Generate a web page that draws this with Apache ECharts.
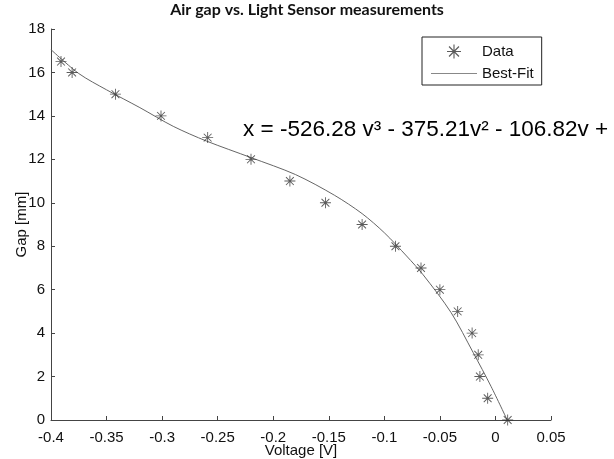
<!DOCTYPE html>
<html>
<head>
<meta charset="utf-8">
<script src="https://cdn.jsdelivr.net/npm/echarts@6/dist/echarts.min.js"></script>
<style>
  html, body { margin: 0; padding: 0; background: #fff; }
  #chart { width: 614px; height: 459px; }
</style>
</head>
<body>
<div id="chart"></div>
<script>
// measured points (voltage [V], gap [mm])
const dataVoltage = [-0.391, -0.381, -0.342, -0.301, -0.259, -0.220, -0.185, -0.153, -0.120,
  -0.090, -0.067, -0.050, -0.034, -0.021, -0.0155, -0.014, -0.007, 0.011];
const dataGap = [16.5, 16, 15, 14, 13, 12, 11, 10, 9, 8, 7, 6, 5, 4, 3, 2, 1, 0];

// best-fit curve
const fitVoltage = [-0.40, -0.375, -0.35, -0.32, -0.29, -0.26, -0.22, -0.18, -0.145, -0.12,
  -0.10, -0.08, -0.065, -0.04, -0.02, -0.004, 0.0106];
const fitGap = [17.05, 15.95, 15.2, 14.38, 13.52, 12.84, 12.08, 11.3, 10.35, 9.5,
  8.62, 7.55, 6.68, 4.95, 3.1, 1.55, 0];

const xTicks = { min: -0.4, max: 0.05, step: 0.05 };
const yTicks = { min: 0, max: 18, step: 2 };

const titleText = "Air gap vs. Light Sensor measurements";
const equationText = "x = -526.28 v\u00b3 - 375.21v\u00b2 - 106.82v +";

// asterisk marker
const star = "path://M-0.8,-10L0.8,-10L0.8,10L-0.8,10Z" +
  "M-10,-0.8L10,-0.8L10,0.8L-10,0.8Z" +
  "M-7.7,-6.5L-6.5,-7.7L7.7,6.5L6.5,7.7Z" +
  "M6.5,-7.7L7.7,-6.5L-6.5,7.7L-7.7,6.5Z";
// thin line legend icon (tiny corner dots keep the 46x14 box)
const lineIcon = "path://M0,0L0.01,0L0.01,0.01Z" +
  "M0,6.6L46,6.6L46,7.4L0,7.4Z" +
  "M45.99,14L46,14L46,13.99Z";

const chart = echarts.init(document.getElementById("chart"), null, { renderer: "canvas" });

const font = "Liberation Sans, Arial, sans-serif";

chart.setOption({
  animation: false,
  backgroundColor: "#fff",
  title: {
    text: titleText,
    left: "center",
    top: -3,
    textStyle: { fontFamily: "Lato, sans-serif", fontWeight: "bold", fontSize: 16, color: "#111" }
  },
  legend: {
    orient: "vertical",
    left: 422,
    top: 37,
    padding: [7, 8, 4, 9],
    itemGap: 7,
    itemWidth: 46,
    itemHeight: 14,
    borderColor: "#222",
    borderWidth: 1,
    textStyle: { fontFamily: font, fontSize: 15, color: "#111" },
    data: [
      { name: "Data", icon: star },
      { name: "Best-Fit", icon: lineIcon, itemStyle: { color: "#888" } }
    ]
  },
  grid: { left: 51, right: 63, top: 29, bottom: 39, outerBoundsMode: "none" },
  xAxis: {
    type: "value",
    min: xTicks.min,
    max: xTicks.max,
    interval: xTicks.step,
    name: "Voltage [V]",
    nameLocation: "middle",
    nameGap: 23,
    nameMoveOverlap: false,
    nameTextStyle: { fontFamily: font, fontSize: 15, color: "#111" },
    axisLine: { show: true, onZero: false, lineStyle: { color: "#444", width: 1 } },
    axisTick: { show: true, inside: true, length: 4, lineStyle: { color: "#444" } },
    axisLabel: { fontFamily: font, fontSize: 15, color: "#111", margin: 10 },
    splitLine: { show: false }
  },
  yAxis: {
    type: "value",
    min: yTicks.min,
    max: yTicks.max,
    interval: yTicks.step,
    name: "Gap [mm]",
    nameLocation: "middle",
    nameGap: 22,
    nameMoveOverlap: false,
    nameTextStyle: { fontFamily: font, fontSize: 15, color: "#111" },
    axisLine: { show: true, onZero: false, lineStyle: { color: "#444", width: 1 } },
    axisTick: { show: true, inside: true, length: 4, lineStyle: { color: "#444" } },
    axisLabel: { fontFamily: font, fontSize: 15, color: "#111", margin: 6 },
    splitLine: { show: false }
  },
  graphic: [{
    type: "text",
    left: 243,
    top: 118,
    style: { text: equationText, font: "22.5px " + font, fill: "#000" }
  }],
  series: [
    {
      name: "Data",
      type: "scatter",
      symbol: star,
      symbolSize: 11,
      symbolKeepAspect: true,
      itemStyle: { color: "#333" },
      data: dataVoltage.map((v, i) => [v, dataGap[i]]),
      z: 3
    },
    {
      name: "Best-Fit",
      type: "line",
      smooth: 0.3,
      showSymbol: false,
      symbol: "none",
      lineStyle: { color: "#666", width: 1 },
      itemStyle: { color: "#666" },
      data: fitVoltage.map((v, i) => [v, fitGap[i]]),
      z: 2
    }
  ]
});
</script>
</body>
</html>
